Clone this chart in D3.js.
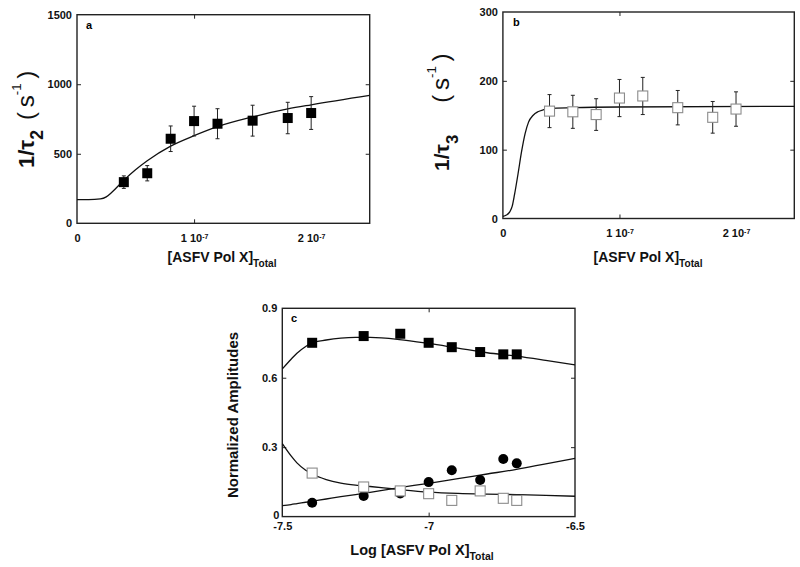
<!DOCTYPE html>
<html><head><meta charset="utf-8">
<script src="https://cdn.jsdelivr.net/npm/d3@7"></script>
<style>
body{margin:0;background:#fff;}
svg{display:block;font-family:"Liberation Sans",Arial,Helvetica,sans-serif;}
</style></head>
<body><svg id="c" width="800" height="567"></svg>
<script>
// ---------- data ----------
const concTotal = [0.4e-7, 0.6e-7, 0.8e-7, 1.0e-7, 1.2e-7, 1.5e-7, 1.8e-7, 2.0e-7];
// panel a: 1/tau2
const tau2 = [296, 360, 608, 735, 716, 738, 757, 793];
const tau2Err = [45, 55, 92, 107, 108, 111, 113, 118];
const tau2FitX = [0, 0.1e-7, 0.2e-7, 0.25e-7, 0.3e-7, 0.4e-7, 0.5e-7, 0.6e-7, 0.8e-7, 1.0e-7, 1.2e-7, 1.5e-7, 1.8e-7, 2.0e-7, 2.5e-7];
const tau2FitY = [170, 170, 175, 190, 225, 310, 385, 450, 555, 630, 695, 765, 822, 852, 920];
// panel b: 1/tau3
const tau3 = [156, 155, 151, 175, 178, 161, 147, 159];
const tau3Err = [24, 24, 23, 27, 27, 25, 23, 25];
const tau3FitX = [0, 0.03e-7, 0.06e-7, 0.08e-7, 0.1e-7, 0.13e-7, 0.16e-7, 0.19e-7, 0.22e-7, 0.26e-7, 0.3e-7, 0.35e-7, 0.4e-7, 0.6e-7, 1.0e-7, 2.5e-7];
const tau3FitY = [3, 5, 10, 18, 35, 65, 97, 123, 140, 150, 155, 158, 160, 161, 162, 163];
// panel c: normalized amplitudes vs log concentration
const logConc = [-7.398, -7.222, -7.097, -7.0, -6.921, -6.824, -6.745, -6.699];
const ampFilledSq = [0.751, 0.780, 0.790, 0.751, 0.732, 0.711, 0.701, 0.701];
const ampCircle = [0.060, 0.089, 0.100, 0.149, 0.200, 0.158, 0.249, 0.230];
const ampOpenSq = [0.188, 0.128, 0.111, 0.099, 0.070, 0.111, 0.079, 0.070];
const fitLogX = [-7.5, -7.47, -7.45, -7.42, -7.4, -7.35, -7.3, -7.25, -7.2, -7.1, -7.0, -6.9, -6.8, -6.7, -6.6, -6.5];
const fitFilledSq = [0.638, 0.680, 0.706, 0.735, 0.750, 0.763, 0.771, 0.774, 0.774, 0.765, 0.748, 0.728, 0.708, 0.693, 0.675, 0.656];
const fitOpenSq = [0.315, 0.262, 0.232, 0.200, 0.185, 0.160, 0.145, 0.136, 0.130, 0.117, 0.106, 0.100, 0.097, 0.095, 0.092, 0.088];
const fitCircle = [0.047, 0.052, 0.056, 0.062, 0.066, 0.076, 0.086, 0.095, 0.105, 0.125, 0.144, 0.164, 0.184, 0.204, 0.228, 0.252];
// ticks
const concTicks = [0, 1e-7, 2e-7];
const tau2Ticks = [0, 500, 1000, 1500];
const tau3Ticks = [0, 100, 200, 300];
const logTicks = [-7.5, -7, -6.5];
const ampTicks = [0, 0.3, 0.6, 0.9];
const concTickLabels = ["0", "1 10|-7", "2 10|-7"];
const logTickLabels = ["-7.5", "-7", "-6.5"];
const ampTickLabels = ["0", "0.3", "0.6", "0.9"];

// ---------- drawing ----------
const svg = d3.select("#c");
const FONT = '"Liberation Sans",Arial,Helvetica,sans-serif';

function frame(x0, x1, y0, y1, xd, yd) {
  const g = svg.append("g");
  const x = d3.scaleLinear().domain(xd).range([x0, x1]);
  const y = d3.scaleLinear().domain(yd).range([y1, y0]);
  g.append("rect").attr("x", x0).attr("y", y0).attr("width", x1 - x0).attr("height", y1 - y0)
    .attr("fill", "none").attr("stroke", "#222").attr("stroke-width", 1.4);
  return {g, x, y, x0, x1, y0, y1};
}

function axes(p, xt, yt, xfmt, yfmt, xpad) {
  const style = sel => {
    sel.select(".domain").remove();
    sel.selectAll(".tick line").attr("stroke", "#222").attr("stroke-width", 1);
    sel.selectAll("text").attr("font-family", FONT).attr("font-size", 11).attr("font-weight", "bold").attr("fill", "#111");
  };
  const inner = xt.filter((v, i) => i > 0 && i < xt.length - 1);
  const innerY = yt.filter((v, i) => i > 0 && i < yt.length - 1);
  const gb = p.g.append("g").attr("transform", `translate(0,${p.y1})`)
    .call(d3.axisBottom(p.x).tickValues(xt).tickSizeInner(-4).tickSizeOuter(0).tickPadding(xpad).tickFormat(xfmt));
  style(gb);
  gb.selectAll(".tick line").filter(d => !inner.includes(d)).remove();
  gb.selectAll("text").each(function(d) {
    const t = d3.select(this); const s = t.text();
    if (s.includes("|")) {
      const [a, b] = s.split("|");
      t.text(a);
      t.append("tspan").attr("font-size", 7).attr("dy", "-0.45em").text(b);
    }
  });
  const gt = p.g.append("g").attr("transform", `translate(0,${p.y0})`)
    .call(d3.axisTop(p.x).tickValues(inner).tickSizeInner(-4).tickSizeOuter(0).tickFormat(""));
  style(gt);
  const gl = p.g.append("g").attr("transform", `translate(${p.x0},0)`)
    .call(d3.axisLeft(p.y).tickValues(yt).tickSizeInner(-4).tickSizeOuter(0).tickPadding(5).tickFormat(yfmt));
  style(gl);
  gl.selectAll(".tick line").filter(d => !innerY.includes(d)).remove();
  const gr = p.g.append("g").attr("transform", `translate(${p.x1},0)`)
    .call(d3.axisRight(p.y).tickValues(innerY).tickSizeInner(-4).tickSizeOuter(0).tickFormat(""));
  style(gr);
  return {gb, gl};
}

function fit(p, xs, ys) {
  const line = d3.line().x(d => p.x(d[0])).y(d => p.y(d[1])).curve(d3.curveMonotoneX);
  p.g.append("path").datum(xs.map((v, i) => [v, ys[i]])).attr("d", line)
    .attr("fill", "none").attr("stroke", "#111").attr("stroke-width", 1.3);
}

function errbars(p, xs, ys, es) {
  const g = p.g.append("g").attr("stroke", "#222").attr("stroke-width", 1);
  xs.forEach((v, i) => {
    const cx = p.x(v), t = p.y(ys[i] + es[i]), b = p.y(ys[i] - es[i]);
    g.append("line").attr("x1", cx).attr("x2", cx).attr("y1", t).attr("y2", b);
    g.append("line").attr("x1", cx - 2).attr("x2", cx + 2).attr("y1", t).attr("y2", t);
    g.append("line").attr("x1", cx - 2).attr("x2", cx + 2).attr("y1", b).attr("y2", b);
  });
}

function squares(p, xs, ys, filled, s) {
  p.g.append("g").selectAll("rect").data(xs.map((v, i) => [v, ys[i]])).join("rect")
    .attr("x", d => p.x(d[0]) - s / 2).attr("y", d => p.y(d[1]) - s / 2)
    .attr("width", s).attr("height", s)
    .attr("fill", filled ? "#000" : "#fff")
    .attr("stroke", filled ? "#000" : "#8c8c8c").attr("stroke-width", filled ? 0 : 1.1);
}

function circles(p, xs, ys, r) {
  p.g.append("g").selectAll("circle").data(xs.map((v, i) => [v, ys[i]])).join("circle")
    .attr("cx", d => p.x(d[0])).attr("cy", d => p.y(d[1])).attr("r", r).attr("fill", "#000");
}

function panelLetter(p, txt, x, y) {
  p.g.append("text").attr("x", x).attr("y", y).text(txt)
    .attr("font-family", FONT).attr("font-size", 11).attr("font-weight", "bold");
}

function xTitle(p, pre, cx, y, size) {
  const t = p.g.append("text").attr("x", cx).attr("y", y).attr("text-anchor", "middle")
    .attr("font-family", FONT).attr("font-weight", "bold").attr("font-size", size).attr("fill", "#111");
  t.append("tspan").text(pre);
  t.append("tspan").attr("font-size", size * 0.72).attr("dy", "0.45em").text("Total");
}

// rotated y title: starts at screen y = yStart (bottom), baseline at screen x
function tauTitle(p, sub, x, yStart, size, gap, psize) {
  const t = p.g.append("text").attr("transform", `translate(${x},${yStart}) rotate(-90)`)
    .attr("text-anchor", "start").attr("font-family", FONT).attr("font-size", size).attr("fill", "#111")
    .attr("xml:space", "preserve");
  const subShift = size * 0.42;
  const supShift = psize * 0.55;
  t.append("tspan").attr("font-weight", "bold").text("1/τ");
  t.append("tspan").attr("font-weight", "bold").attr("font-size", size * 0.8).attr("dy", subShift).text(sub);
  t.append("tspan").attr("font-size", psize).attr("dx", gap).attr("dy", -subShift).text("(\u2009s");
  t.append("tspan").attr("font-size", psize * 0.55).attr("dy", -supShift).text("-1");
  t.append("tspan").attr("font-size", psize).attr("dy", supShift).text("\u2009)");
}

const concFmt = d => concTickLabels[concTicks.indexOf(d)];

// panel a
const pa = frame(77, 369.7, 14.7, 223.3, [0, 2.5e-7], [0, 1500]);
axes(pa, concTicks, tau2Ticks, concFmt, d => String(d), 11);
fit(pa, tau2FitX, tau2FitY);
errbars(pa, concTotal, tau2, tau2Err);
squares(pa, concTotal, tau2, true, 10);
panelLetter(pa, "a", 86, 29);
xTitle(pa, "[ASFV Pol X]", 222, 262, 14);
tauTitle(pa, "2", 34, 168, 22, 10, 24);

// panel b
const pb = frame(502.9, 794.3, 12, 218.5, [0, 2.5e-7], [0, 300]);
axes(pb, concTicks, tau3Ticks, concFmt, d => String(d), 11);
fit(pb, tau3FitX, tau3FitY);
errbars(pb, concTotal, tau3, tau3Err);
squares(pb, concTotal, tau3, false, 10);
panelLetter(pb, "b", 513, 26);
xTitle(pb, "[ASFV Pol X]", 648, 262, 14);
tauTitle(pb, "3", 449, 171, 21, 32, 24);

// panel c
const pc = frame(282.3, 575, 308.3, 516.6, [-7.5, -6.5], [0, 0.9]);
const axc = axes(pc, logTicks, ampTicks, d => logTickLabels[logTicks.indexOf(d)], d => ampTickLabels[ampTicks.indexOf(d)], 5.5);
axc.gl.selectAll(".tick text").filter(d => d === 0).attr("y", -1.5).attr("x", -3);
fit(pc, fitLogX, fitFilledSq);
fit(pc, fitLogX, fitOpenSq);
fit(pc, fitLogX, fitCircle);
circles(pc, logConc, ampCircle, 5);
squares(pc, logConc, ampOpenSq, false, 10);
squares(pc, logConc, ampFilledSq, true, 10);
panelLetter(pc, "c", 291, 322);
xTitle(pc, "Log [ASFV Pol X]", 422, 555, 14.5);
pc.g.append("text").attr("transform", `translate(238,415) rotate(-90)`).attr("text-anchor", "middle")
  .attr("font-family", FONT).attr("font-weight", "bold").attr("font-size", 15).attr("fill", "#111")
  .text("Normalized Amplitudes");
</script>
</body></html>
